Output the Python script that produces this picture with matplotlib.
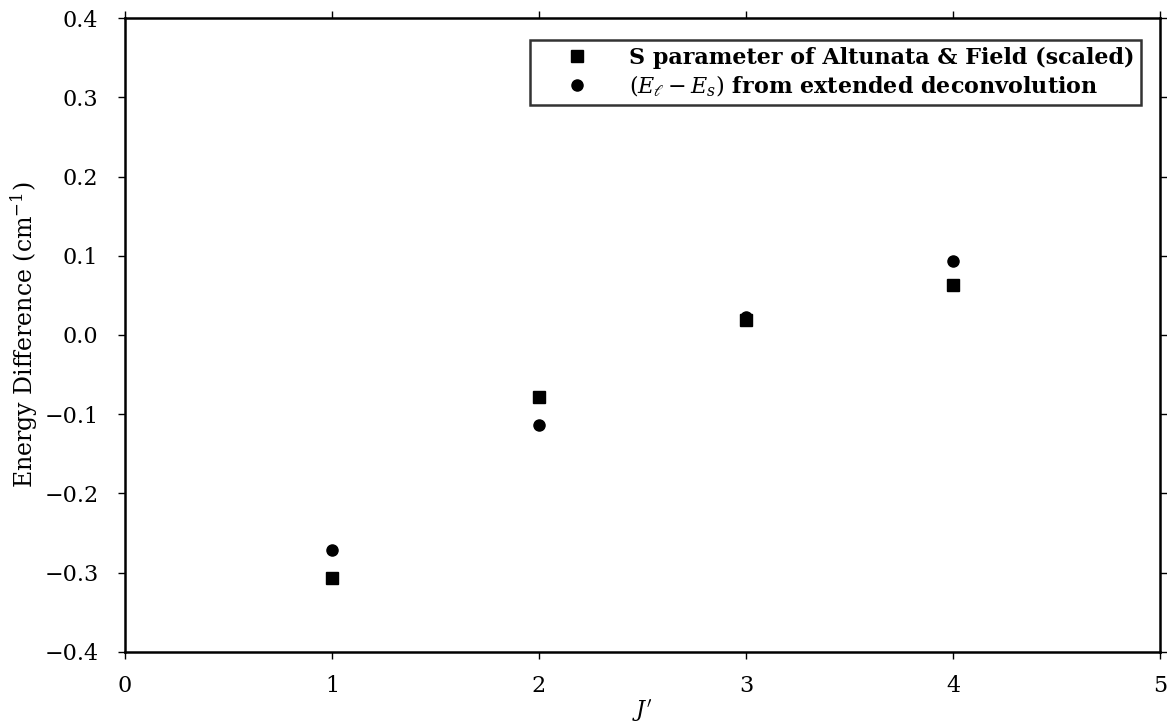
import matplotlib
matplotlib.use("Agg")
import matplotlib.pyplot as plt

plt.rcParams['font.family'] = ['DejaVu Serif']
plt.rcParams['mathtext.fontset'] = 'dejavuserif'

J = [1, 2, 3, 4]
s_param = [-0.307, -0.078, 0.019, 0.063]
deconv = [-0.272, -0.114, 0.023, 0.093]

xticks = [0, 1, 2, 3, 4, 5]
yticks = [-0.4, -0.3, -0.2, -0.1, 0.0, 0.1, 0.2, 0.3, 0.4]

fig = plt.figure(figsize=(11.67, 7.25), dpi=100)
ax = fig.add_axes([0.107, 0.101, 0.887, 0.874])

ax.plot(J, s_param, 's', color='black', markersize=8, label='S parameter of Altunata & Field (scaled)')
ax.plot(J, deconv, 'o', color='black', markersize=8, label=r'$(E_\ell - E_s)$ from extended deconvolution')

ax.set_xlim(0, 5)
ax.set_ylim(-0.4, 0.4)
ax.set_xticks(xticks)
ax.set_xticklabels([str(t) for t in xticks])
ax.set_yticks(yticks)
ax.set_yticklabels(['\u2212' + f"{abs(t):.1f}" if t < 0 else f"{t:.1f}" for t in yticks])
ax.tick_params(axis='both', direction='out', length=5, width=1, labelsize=16,
               top=True, right=True)
ax.tick_params(axis='x', pad=12)
ax.tick_params(axis='y', pad=14)
for sp in ax.spines.values():
    sp.set_linewidth(1.8)

ax.set_xlabel(r"$J'$", fontsize=16, labelpad=0)
ax.set_ylabel(r'Energy Difference (cm$^{-1}$)', fontsize=17, labelpad=3)

leg = ax.legend(loc='upper right', bbox_to_anchor=(0.982, 0.965), borderaxespad=0,
                frameon=True, fancybox=False,
                edgecolor='black', handletextpad=0.55, borderpad=0.3, handlelength=3.6,
                labelspacing=0.2, prop={'weight': 'bold', 'size': 16})
leg.get_frame().set_linewidth(1.8)

fig.savefig('out.png', dpi=100)
